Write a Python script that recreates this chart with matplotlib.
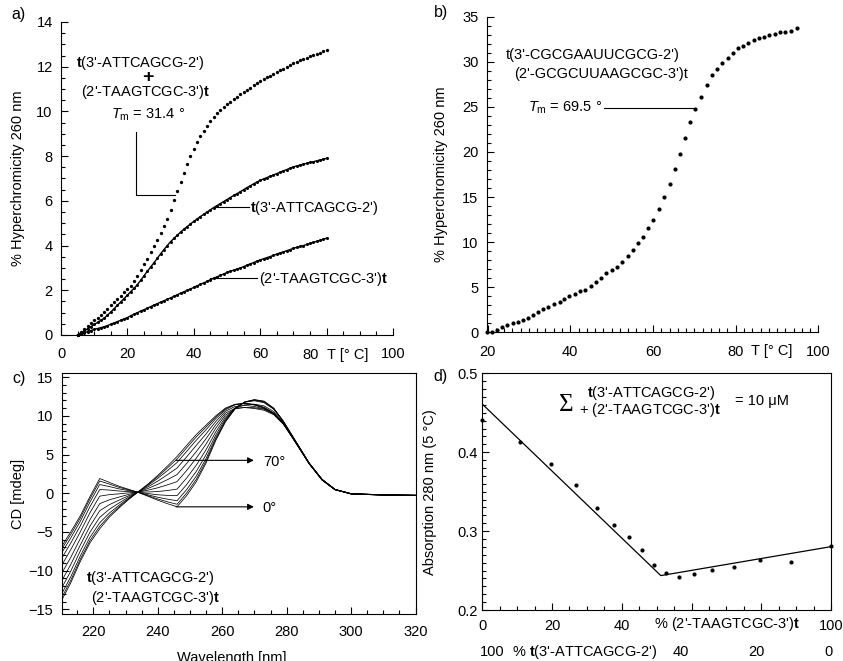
import numpy as np
import matplotlib.pyplot as plt
from matplotlib.ticker import MultipleLocator
from matplotlib.transforms import blended_transform_factory

plt.rcParams['font.family'] = ['Liberation Sans', 'DejaVu Sans']
plt.rcParams['font.size'] = 10.5
plt.rcParams['mathtext.fontset'] = 'custom'
plt.rcParams['mathtext.rm'] = 'Liberation Sans'
plt.rcParams['mathtext.it'] = 'Liberation Sans:italic'
plt.rcParams['mathtext.bf'] = 'Liberation Sans:bold'

# ---- a) hyperchromicity vs temperature (1 degree steps, 5..80 C)
temp_a = list(range(5, 81))
hyp_duplex = [0.00, 0.13, 0.26, 0.39, 0.52, 0.65, 0.78, 0.91, 1.04, 1.18,
              1.33, 1.47, 1.62, 1.76, 1.91, 2.05, 2.20, 2.40, 2.64, 2.90,
              3.16, 3.42, 3.70, 3.98, 4.27, 4.57, 4.88, 5.20, 5.60, 6.02,
              6.44, 6.85, 7.26, 7.66, 8.00, 8.32, 8.62, 8.90, 9.14, 9.36,
              9.56, 9.75, 9.92, 10.07, 10.20, 10.32, 10.44, 10.55, 10.66, 10.76,
              10.86, 10.96, 11.06, 11.16, 11.26, 11.36, 11.44, 11.52, 11.60, 11.68,
              11.76, 11.84, 11.92, 12.00, 12.08, 12.16, 12.22, 12.28, 12.34, 12.40,
              12.46, 12.52, 12.57, 12.63, 12.69, 12.75]
hyp_strand1 = [0.00, 0.09, 0.18, 0.28, 0.37, 0.47, 0.56, 0.66, 0.75, 0.89,
               1.03, 1.18, 1.33, 1.48, 1.63, 1.78, 1.94, 2.09, 2.25, 2.45,
               2.65, 2.85, 3.04, 3.23, 3.43, 3.63, 3.82, 4.00, 4.17, 4.32,
               4.46, 4.60, 4.73, 4.85, 4.97, 5.08, 5.19, 5.30, 5.40, 5.50,
               5.60, 5.70, 5.79, 5.88, 5.97, 6.06, 6.15, 6.24, 6.32, 6.41,
               6.50, 6.59, 6.67, 6.76, 6.84, 6.92, 6.98, 7.04, 7.10, 7.16,
               7.22, 7.28, 7.34, 7.40, 7.46, 7.52, 7.56, 7.60, 7.64, 7.68,
               7.72, 7.75, 7.79, 7.83, 7.86, 7.90]
hyp_strand2 = [0.00, 0.05, 0.10, 0.15, 0.20, 0.25, 0.29, 0.33, 0.37, 0.42,
               0.48, 0.54, 0.60, 0.66, 0.72, 0.78, 0.86, 0.93, 1.00, 1.07,
               1.13, 1.20, 1.27, 1.34, 1.40, 1.47, 1.53, 1.60, 1.66, 1.73,
               1.80, 1.87, 1.93, 2.00, 2.06, 2.13, 2.20, 2.27, 2.33, 2.40,
               2.47, 2.54, 2.60, 2.67, 2.73, 2.80, 2.85, 2.90, 2.95, 3.00,
               3.06, 3.12, 3.18, 3.24, 3.30, 3.36, 3.41, 3.46, 3.51, 3.56,
               3.62, 3.67, 3.72, 3.77, 3.82, 3.88, 3.92, 3.96, 4.00, 4.05,
               4.10, 4.14, 4.19, 4.23, 4.28, 4.33]

# ---- b) RNA duplex melting
temp_b = [19.8, 21.0, 22.2, 23.6, 24.8, 26.1, 27.3, 28.5, 29.7, 31.1,
          32.3, 33.5, 34.7, 36.0, 37.4, 38.6, 39.8, 41.1, 42.3, 43.6,
          44.9, 46.1, 47.5, 48.7, 50.0, 51.3, 52.6, 53.9, 55.2, 56.4,
          57.7, 58.9, 60.1, 61.5, 62.7, 64.1, 65.3, 66.6, 67.8, 69.0,
          70.2, 71.6, 73.0, 74.2, 75.5, 76.7, 78.1, 79.3, 80.5, 81.7,
          82.9, 84.4, 85.6, 86.8, 88.0, 89.4, 90.6, 91.8, 93.3, 94.7]
hyp_rna = [0.0, 0.07, 0.26, 0.63, 0.80, 1.00, 1.18, 1.37, 1.60, 1.90,
           2.30, 2.55, 2.85, 3.14, 3.40, 3.66, 4.03, 4.20, 4.60, 4.70,
           5.14, 5.62, 6.06, 6.54, 6.90, 7.28, 7.83, 8.46, 9.13, 9.87,
           10.6, 11.6, 12.5, 13.7, 15.0, 16.5, 18.1, 19.8, 21.5, 23.3,
           24.8, 26.1, 27.4, 28.5, 29.2, 29.9, 30.4, 31.0, 31.5, 31.8,
           32.1, 32.4, 32.6, 32.8, 33.0, 33.1, 33.3, 33.3, 33.4, 33.7]

# ---- c) CD spectra 0..70 C
wavelength = [210, 213, 216, 219, 222, 225, 228, 231, 234, 237, 240, 243, 246, 249,
              252, 255, 258, 261, 264, 267, 270, 273, 276, 279, 283, 287, 291, 295,
              300, 310, 320]
cd_temps = [0, 7, 14, 21, 28, 35, 42, 49, 56, 63, 70]
cd_spectra = [
    [-7.00, -5.00, -2.90, -0.40, 1.90, 1.40, 0.90, 0.50, 0.10, -0.40, -0.90, -1.35, -1.75, -0.30,
     1.50, 3.90, 6.80, 9.20, 10.90, 11.80, 12.10, 11.90, 11.00, 9.30, 6.60, 3.90, 1.80, 0.50,
     -0.05, -0.20, -0.25],
    [-7.35, -5.33, -3.20, -0.70, 1.58, 1.18, 0.76, 0.44, 0.11, -0.32, -0.74, -1.11, -1.43, 0.03,
     1.81, 4.15, 6.96, 9.29, 10.93, 11.79, 12.07, 11.86, 10.97, 9.29, 6.59, 3.90, 1.80, 0.50,
     -0.05, -0.20, -0.25],
    [-7.84, -5.79, -3.61, -1.12, 1.12, 0.86, 0.56, 0.34, 0.11, -0.21, -0.52, -0.77, -0.97, 0.48,
     2.23, 4.49, 7.18, 9.42, 10.97, 11.78, 12.02, 11.79, 10.92, 9.26, 6.58, 3.89, 1.79, 0.49,
     -0.06, -0.21, -0.26],
    [-8.54, -6.45, -4.20, -1.72, 0.47, 0.41, 0.28, 0.21, 0.12, -0.05, -0.20, -0.28, -0.32, 1.13,
     2.84, 4.98, 7.50, 9.60, 11.03, 11.76, 11.95, 11.70, 10.85, 9.23, 6.56, 3.88, 1.78, 0.49,
     -0.06, -0.21, -0.26],
    [-9.45, -7.31, -4.97, -2.50, -0.38, -0.18, -0.08, 0.05, 0.14, 0.16, 0.22, 0.35, 0.53, 1.98,
     3.64, 5.62, 7.92, 9.83, 10.96, 11.43, 11.51, 11.29, 10.56, 9.10, 6.53, 3.87, 1.77, 0.48,
     -0.07, -0.22, -0.27],
    [-10.50, -8.30, -5.85, -3.40, -1.35, -0.85, -0.50, -0.15, 0.15, 0.40, 0.70, 1.08, 1.50, 2.95,
     4.55, 6.35, 8.40, 10.10, 10.90, 11.10, 11.05, 10.85, 10.25, 8.95, 6.50, 3.85, 1.75, 0.48,
     -0.08, -0.23, -0.28],
    [-11.48, -9.22, -6.68, -4.24, -2.26, -1.48, -0.89, -0.33, 0.16, 0.62, 1.15, 1.75, 2.41, 3.86,
     5.40, 7.04, 8.85, 10.35, 10.98, 11.07, 10.95, 10.72, 10.15, 8.91, 6.47, 3.84, 1.74, 0.47,
     -0.08, -0.23, -0.28],
    [-12.39, -10.08, -7.44, -5.02, -3.11, -2.07, -1.26, -0.50, 0.18, 0.83, 1.56, 2.39, 3.26, 4.71,
     6.20, 7.67, 9.26, 10.59, 11.21, 11.35, 11.21, 10.91, 10.26, 8.97, 6.45, 3.82, 1.72, 0.46,
     -0.09, -0.24, -0.29],
    [-13.16, -10.81, -8.09, -5.68, -3.82, -2.56, -1.56, -0.64, 0.19, 1.01, 1.92, 2.92, 3.97, 5.42,
     6.87, 8.21, 9.62, 10.78, 11.43, 11.62, 11.48, 11.11, 10.38, 9.04, 6.42, 3.81, 1.71, 0.46,
     -0.09, -0.24, -0.29],
    [-13.65, -11.27, -8.51, -6.10, -4.28, -2.88, -1.76, -0.74, 0.20, 1.12, 2.14, 3.26, 4.43, 5.88,
     7.30, 8.56, 9.84, 10.91, 11.47, 11.61, 11.44, 11.05, 10.34, 9.02, 6.41, 3.81, 1.71, 0.45,
     -0.10, -0.25, -0.30],
    [-14.00, -11.60, -8.80, -6.40, -4.60, -3.10, -1.90, -0.80, 0.20, 1.20, 2.30, 3.50, 4.75, 6.20,
     7.60, 8.80, 10.00, 11.00, 11.50, 11.60, 11.40, 11.00, 10.30, 9.00, 6.40, 3.80, 1.70, 0.45,
     -0.10, -0.25, -0.30],
]

# ---- d) Job plot
pct_strand2 = [0, 10.8, 19.7, 26.8, 32.8, 37.9, 42.2, 45.9, 49.1, 52.7, 56.5,
               60.8, 66.0, 72.1, 79.7, 88.6, 100]
absorb_280 = [0.441, 0.4135, 0.385, 0.358, 0.329, 0.308, 0.293, 0.2755, 0.2567,
              0.2468, 0.2418, 0.2456, 0.251, 0.2544, 0.2637, 0.2603, 0.2812]
fit_x = [0, 51.2, 100]
fit_y = [0.461, 0.2436, 0.2803]

W, H = 843, 661
fig = plt.figure(figsize=(W / 100, H / 100), dpi=100)


def box(l, t, r, b):
    return [l / W, 1 - b / H, (r - l) / W, (b - t) / H]


def style(ax, xmaj, xmin, ymaj, ymin, xpad, ypad):
    ax.xaxis.set_major_locator(MultipleLocator(xmaj))
    ax.xaxis.set_minor_locator(MultipleLocator(xmin))
    ax.yaxis.set_major_locator(MultipleLocator(ymaj))
    ax.yaxis.set_minor_locator(MultipleLocator(ymin))
    ax.tick_params(which='both', direction='in', width=0.8)
    ax.tick_params(which='major', length=5)
    ax.tick_params(which='minor', length=3)
    ax.tick_params(axis='x', pad=xpad)
    ax.tick_params(axis='y', pad=ypad)
    for s in ax.spines.values():
        s.set_linewidth(0.8)


A = r'$\mathbf{t}$' + "(3'-ATTCAGCG-2')"
B = "(2'-TAAGTCGC-3')" + r'$\mathbf{t}$'

# ---------------- a)
ax = fig.add_axes(box(61, 22, 393, 335))
ax.plot(temp_a, hyp_duplex, 'o', ms=2.4, mec='none', color='k', clip_on=False)
ax.plot(temp_a, hyp_strand1, 'o-', ms=2.2, lw=1.0, mec='none', color='k', clip_on=False)
ax.plot(temp_a, hyp_strand2, 'o-', ms=2.2, lw=1.0, mec='none', color='k', clip_on=False)
ax.set_xlim(0, 100)
ax.set_ylim(0, 14)
style(ax, 20, 5, 2, 0.5, 9, 6)
ax.spines['top'].set_visible(False)
ax.spines['right'].set_visible(False)
ax.set_xticks([0, 20, 40, 60, 80, 100], ['0', '20', '40', '60', '', '100'])
tr = blended_transform_factory(ax.transData, ax.transAxes)
ax.text(75.2, -0.064, '80', transform=tr, ha='center', va='center')
ax.text(86.4, -0.064, 'T [° C]', transform=tr, ha='center', va='center')
ax.set_ylabel('% Hyperchromicity 260 nm')
ax.yaxis.set_label_coords(-0.108, 0.5)
ax.text(23.8, 12.15, A, ha='center', va='center')
ax.text(26.1, 11.5, '+', ha='center', va='center', fontsize=14, fontweight='bold')
ax.text(25.6, 10.88, B, ha='center', va='center')
ax.text(26.3, 9.84, r'$T_{\mathrm{m}}$ = 31.4 °', ha='center', va='center')
ax.plot([22.7, 22.7, 34.4], [9.1, 6.26, 6.26], color='k', lw=0.8)
ax.plot([45.9, 56.5], [5.74, 5.74], color='k', lw=0.8)
ax.text(57.0, 5.68, A, ha='left', va='center')
ax.plot([44.9, 59.0], [2.53, 2.53], color='k', lw=0.8)
ax.text(59.5, 2.5, B, ha='left', va='center')

# ---------------- b)
ax = fig.add_axes(box(486.7, 16.7, 818.5, 332.3))
ax.plot(temp_b, hyp_rna, 'o', ms=3.0, mec='none', color='k', clip_on=False)
ax.set_xlim(19.8, 100)
ax.set_ylim(0, 35)
style(ax, 20, 2, 5, 1, 9, 6)
ax.spines['top'].set_visible(False)
ax.spines['right'].set_visible(False)
ax.set_xticks([20, 40, 60, 80, 100])
tr = blended_transform_factory(ax.transData, ax.transAxes)
ax.text(88.7, -0.058, 'T [° C]', transform=tr, ha='center', va='center')
ax.set_ylabel('% Hyperchromicity 260 nm')
ax.yaxis.set_label_coords(-0.117, 0.5)
ax.text(45.5, 30.75, "t(3'-CGCGAAUUCGCG-2')", ha='center', va='center')
ax.text(47.5, 28.7, "(2'-GCGCUUAAGCGC-3')t", ha='center', va='center')
ax.text(47.8, 24.9, r'$T_{\mathrm{m}}$ = 69.5 °', ha='right', va='center')
ax.plot([48.1, 70.1], [24.83, 24.83], color='k', lw=0.8)

# ---------------- c)
ax = fig.add_axes(box(61.7, 373.3, 415.5, 614.3))
for row in cd_spectra:
    ax.plot(wavelength, row, color='k', lw=0.55)
ax.set_xlim(210.2, 320)
ax.set_ylim(-15.65, 15.5)
style(ax, 20, 5, 5, 1, 7.5, 6)
ax.set_ylabel('CD [mdeg]')
ax.yaxis.set_label_coords(-0.104, 0.5)
ax.annotate('', xy=(270.7, 4.25), xytext=(244.8, 4.25),
            arrowprops=dict(arrowstyle='-|>', color='k', lw=0.8, mutation_scale=9))
ax.annotate('', xy=(270.7, -1.76), xytext=(244.8, -1.76),
            arrowprops=dict(arrowstyle='-|>', color='k', lw=0.8, mutation_scale=9))
ax.text(272.6, 4.05, '70°', ha='left', va='center')
ax.text(272.6, -1.85, '0°', ha='left', va='center')
ax.text(217.6, -11.0, A, ha='left', va='center')
ax.text(219.2, -13.6, B, ha='left', va='center')
fig.text((61.7 + 3.22 * (263 - 210.2)) / W, 1 - 658 / H, 'Wavelength [nm]',
         ha='center', va='center')

# ---------------- d)
ax = fig.add_axes(box(482.3, 373.3, 831, 610))
ax.plot(fit_x, fit_y, color='k', lw=0.9)
ax.plot(pct_strand2, absorb_280, 'o', ms=3.0, mec='none', color='k', clip_on=False)
ax.set_xlim(0, 100)
ax.set_ylim(0.2, 0.5)
style(ax, 20, 5, 0.1, 0.01, 6.5, 3)
ax.set_xticks([0, 20, 40, 60, 80, 100], ['0', '20', '40', '', '', '100'])
ax.set_ylabel('Absorption 280 nm (5 °C)')
ax.yaxis.set_label_coords(-0.13, 0.5)
tr = blended_transform_factory(ax.transData, ax.transAxes)
ax.text(70.3, -0.06, "% (2'-TAAGTCGC-3')" + r'$\mathbf{t}$', transform=tr, ha='center', va='center')
ax.text(2.9, -0.177, '100', transform=tr, ha='center', va='center')
ax.text(29.5, -0.177, '% ' + A, transform=tr, ha='center', va='center')
ax.text(56.8, -0.177, '40', transform=tr, ha='center', va='center')
ax.text(78.5, -0.177, '20', transform=tr, ha='center', va='center')
ax.text(99.4, -0.177, '0', transform=tr, ha='center', va='center')
ax.text(24.2, 0.46, 'Σ', ha='center', va='center', fontsize=18, family='Liberation Serif')
ax.text(30.0, 0.4755, A, ha='left', va='center')
ax.text(27.7, 0.4535, '+ ' + B, ha='left', va='center')
ax.text(72.5, 0.4654, '= 10 μM', ha='left', va='center')

# panel letters
for lab, x, y in [('a)', 19, 15), ('b)', 441, 13), ('c)', 19, 378), ('d)', 440, 377)]:
    fig.text(x / W, 1 - y / H, lab, ha='center', va='center', fontsize=11.5)

fig.savefig('out.png', dpi=100)
